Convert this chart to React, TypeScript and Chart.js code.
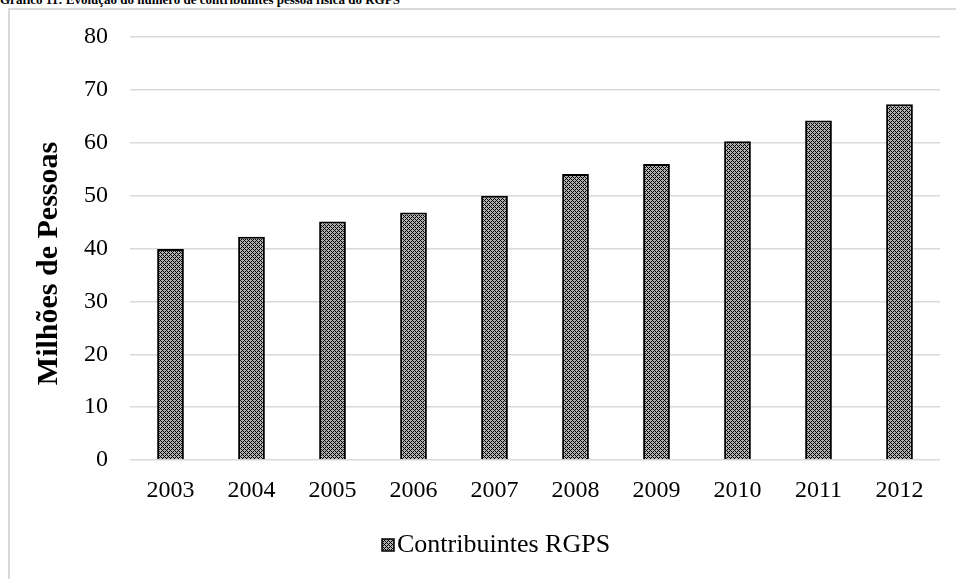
import { useEffect, useRef } from "react";
import { Chart, registerables } from "chart.js";

Chart.register(...registerables);

// Série anual de contribuintes pessoa física do RGPS (milhões)
const years = ["2003", "2004", "2005", "2006", "2007", "2008", "2009", "2010", "2011", "2012"];
const contribuintes = [39.9, 42.2, 45.1, 46.8, 50.0, 54.1, 56.0, 60.3, 64.2, 67.3];
const yMin = 0;
const yMax = 80;
const yStep = 10;
const seriesLabel = "Contribuintes RGPS";
const axisTitle = "Milhões de Pessoas";
const chartTitle = "Gráfico 11: Evolução do número de contribuintes pessoa física do RGPS";

const SERIF = "'Liberation Serif', 'Times New Roman', serif";
const LEGEND_FONT = 26;
const LEGEND_BOX = 12;
const AXIS_TITLE_FONT = 30;
// a moldura do gráfico vai além da borda direita da página
const FRAME_CENTER_X = 496;

// Hachura em losango usada no preenchimento das barras
function makeHatch(ctx: CanvasRenderingContext2D): CanvasPattern | string {
  const tile = document.createElement("canvas");
  tile.width = 4;
  tile.height = 4;
  const t = tile.getContext("2d");
  if (!t) return "#777";
  t.fillStyle = "#b0b0b0";
  t.fillRect(0, 0, 4, 4);
  t.fillStyle = "#000000";
  for (let y = 0; y < 4; y++) {
    for (let x = 0; x < 4; x++) {
      if ((x + y) % 4 === 0 || (x - y + 4) % 4 === 0) t.fillRect(x, y, 1, 1);
    }
  }
  return ctx.createPattern(tile, "repeat") || "#777";
}

// Título do eixo vertical, girado, um pouco abaixo do centro da área de plotagem
const verticalAxisTitle = {
  id: "verticalAxisTitle",
  afterDraw(chart: any) {
    const ctx: CanvasRenderingContext2D = chart.ctx;
    const area = chart.chartArea;
    ctx.save();
    ctx.translate(49, (area.top + area.bottom) / 2 + 15);
    ctx.rotate(-Math.PI / 2);
    ctx.font = `bold ${AXIS_TITLE_FONT}px ${SERIF}`;
    ctx.fillStyle = "#000000";
    ctx.textAlign = "center";
    ctx.textBaseline = "middle";
    ctx.fillText(axisTitle, 0, 0);
    ctx.restore();
  },
};

// Legenda compacta: caixa hachurada colada ao texto
const compactLegend = {
  id: "compactLegend",
  afterDraw(chart: any) {
    const ctx: CanvasRenderingContext2D = chart.ctx;
    const ds = chart.data.datasets[0];
    const centerY = chart.chartArea.bottom + 85;
    ctx.save();
    ctx.font = `${LEGEND_FONT}px ${SERIF}`;
    const text = ds.label as string;
    const tw = ctx.measureText(text).width;
    const gap = 3;
    const total = LEGEND_BOX + gap + tw;
    const x0 = Math.round(FRAME_CENTER_X - total / 2);
    const by = Math.round(centerY - LEGEND_BOX / 2);
    ctx.fillStyle = ds.backgroundColor;
    ctx.fillRect(x0, by, LEGEND_BOX, LEGEND_BOX);
    ctx.strokeStyle = "#000000";
    ctx.lineWidth = 1.5;
    ctx.strokeRect(x0, by, LEGEND_BOX, LEGEND_BOX);
    ctx.fillStyle = "#000000";
    ctx.textBaseline = "middle";
    ctx.textAlign = "left";
    ctx.fillText(text, x0 + LEGEND_BOX + gap, centerY);
    ctx.restore();
  },
};

export default function App() {
  const canvasRef = useRef<HTMLCanvasElement | null>(null);

  useEffect(() => {
    const canvas = canvasRef.current;
    if (!canvas) return;
    const ctx = canvas.getContext("2d");
    if (!ctx) return;
    const hatch = makeHatch(ctx);

    const chart = new Chart(ctx, {
      type: "bar",
      data: {
        labels: years,
        datasets: [
          {
            label: seriesLabel,
            data: contribuintes,
            backgroundColor: hatch as any,
            borderColor: "#000000",
            borderWidth: 2,
            categoryPercentage: 1,
            barPercentage: 0.33,
          },
        ],
      },
      options: {
        responsive: false,
        animation: false,
        layout: { padding: { left: 36, right: 16, top: 37, bottom: 51 } },
        plugins: {
          tooltip: { enabled: false },
          legend: { display: false },
        },
        scales: {
          x: {
            grid: { display: false, drawTicks: false },
            border: { display: false },
            ticks: { color: "#000000", font: { family: SERIF, size: 24 }, padding: 16 },
            afterFit: (s: any) => {
              s.height = 68;
            },
          },
          y: {
            min: yMin,
            max: yMax,
            ticks: {
              stepSize: yStep,
              color: "#000000",
              font: { family: SERIF, size: 24 },
              padding: 22,
            },
            grid: { color: "#d9d9d9", lineWidth: 1.5, drawTicks: false },
            border: { display: false },
            afterFit: (s: any) => {
              s.width = 94;
            },
          },
        },
      },
      plugins: [verticalAxisTitle, compactLegend],
    });

    return () => chart.destroy();
  }, []);

  return (
    <div
      style={{
        position: "absolute",
        left: 0,
        top: 0,
        width: 956,
        height: 579,
        overflow: "hidden",
        background: "#ffffff",
      }}
    >
      <div
        style={{
          position: "absolute",
          left: 0,
          top: -8,
          whiteSpace: "nowrap",
          fontFamily: SERIF,
          fontWeight: "bold",
          fontSize: 13,
          lineHeight: "15px",
          color: "#000000",
        }}
      >
        {chartTitle}
      </div>
      <div
        style={{
          position: "absolute",
          left: 8,
          top: 8,
          width: 1200,
          height: 1200,
          borderLeft: "2px solid #d9d9d9",
          borderTop: "2px solid #d9d9d9",
        }}
      />
      <canvas
        ref={canvasRef}
        width={956}
        height={579}
        style={{ position: "absolute", left: 0, top: 0, width: 956, height: 579 }}
      />
    </div>
  );
}
